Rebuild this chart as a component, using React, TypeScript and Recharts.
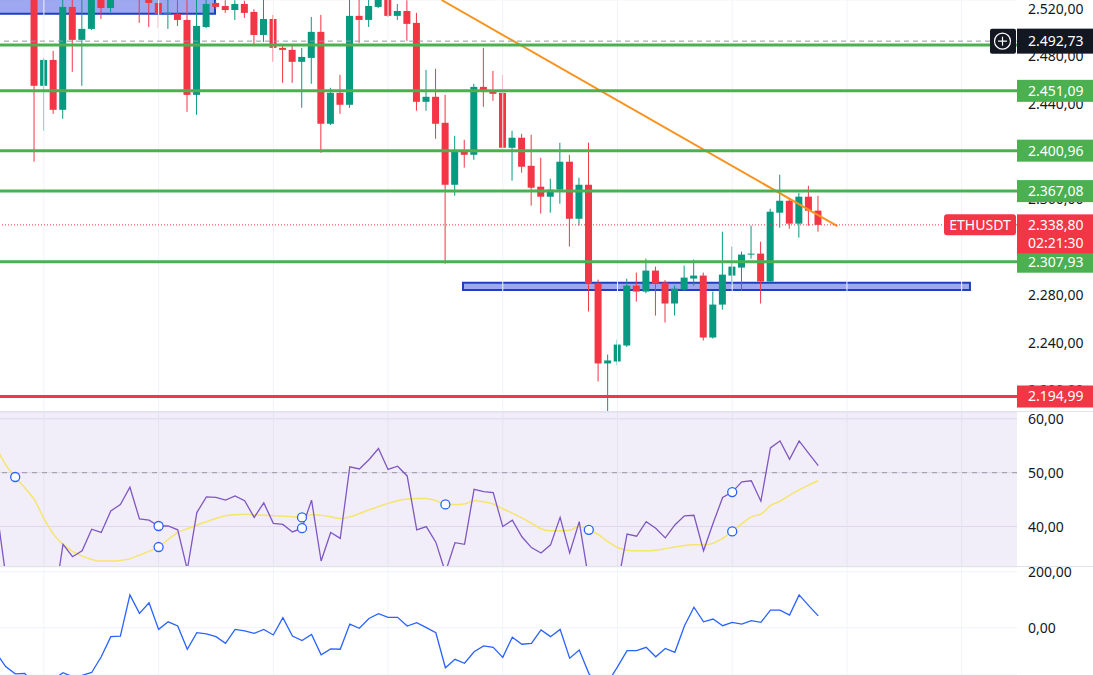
import React from 'react';
import {
  ComposedChart,
  Bar,
  Line,
  XAxis,
  YAxis,
  CartesianGrid,
  ReferenceLine,
  ReferenceArea,
} from 'recharts';

// ---------- data ----------
const opens = [
  2560, 2552, 2540, 2545,
  2534.8, 2455.3, 2477.0, 2435.2, 2521.4, 2493.8, 2503.0, 2528.0, 2520.5, 2529.0,
  2540.0, 2534.0, 2529.0, 2524.7, 2515.5, 2515.5, 2510.5, 2447.7, 2504.6, 2524.7,
  2522.2, 2518.8, 2523.9, 2517.2, 2497.9, 2511.3, 2487.1, 2485.4, 2475.4, 2478.7,
  2500.5, 2423.5, 2449.4, 2439.4, 2513.9, 2510.5, 2521.4, 2528.5, 2513.9, 2518.0,
  2508.0, 2441.9, 2446.1, 2424.3, 2372.4, 2400.1, 2397.5, 2454.4, 2451.1, 2449.4,
  2403.4, 2411.8, 2388.3, 2370.8, 2362.4, 2368.3, 2391.7, 2343.9, 2372.4, 2289.6,
  2222.7, 2224.3, 2237.7, 2287.9, 2282.9, 2300.5, 2290.4, 2272.9, 2284.6, 2293.8,
  2296.3, 2244.4, 2272.0, 2296.3, 2303.0, 2313.9, 2314.7, 2291.3, 2349.0, 2359.0,
  2339.8, 2362.4, 2350.7,
];
const highs = [
  2566, 2556, 2548, 2549,
  2543.0, 2478.7, 2484.6, 2528.0, 2528.5, 2529.0, 2533.0, 2532.0, 2533.0, 2545.0,
  2548.0, 2540.0, 2533.0, 2527.5, 2528.0, 2527.0, 2527.0, 2530.0, 2531.0, 2526.4,
  2527.0, 2527.0, 2526.5, 2519.5, 2528.0, 2514.7, 2490.4, 2490.4, 2487.1, 2513.0,
  2514.7, 2453.6, 2464.5, 2528.0, 2528.0, 2528.0, 2532.0, 2531.0, 2523.9, 2527.0,
  2516.4, 2468.7, 2469.5, 2447.7, 2413.4, 2410.1, 2457.0, 2487.1, 2467.8, 2464.5,
  2417.6, 2415.1, 2414.3, 2395.0, 2377.5, 2407.6, 2397.5, 2378.3, 2407.6, 2292.9,
  2230.2, 2242.7, 2293.8, 2298.8, 2310.5, 2303.8, 2292.5, 2287.9, 2304.7, 2309.7,
  2298.8, 2282.9, 2333.1, 2320.6, 2316.4, 2338.1, 2324.7, 2352.3, 2380.8, 2360.5,
  2365.7, 2371.6, 2363.2,
];
const lows = [
  2548, 2536, 2533, 2529,
  2391.7, 2417.6, 2431.8, 2427.7, 2467.0, 2455.3, 2502.0, 2511.3, 2517.2, 2527.8,
  2528.5, 2508.0, 2504.6, 2503.8, 2503.0, 2505.5, 2433.5, 2431.0, 2503.5, 2519.5,
  2516.4, 2510.5, 2512.2, 2490.4, 2492.1, 2475.4, 2457.8, 2457.8, 2436.9, 2457.0,
  2399.2, 2422.5, 2431.8, 2436.9, 2491.3, 2504.6, 2520.5, 2513.0, 2510.5, 2492.9,
  2434.4, 2434.4, 2410.9, 2306.3, 2363.2, 2386.7, 2393.3, 2437.7, 2442.7, 2402.5,
  2375.8, 2382.5, 2354.9, 2348.2, 2349.0, 2356.5, 2320.6, 2338.1, 2266.2, 2207.6,
  2181.6, 2221.0, 2236.5, 2274.5, 2281.5, 2262.8, 2257.0, 2262.8, 2283.5, 2287.9,
  2241.9, 2243.5, 2267.8, 2288.8, 2283.7, 2310.5, 2272.9, 2290.5, 2336.4, 2335.6,
  2328.1, 2338.1, 2333.1,
];
const closes = [
  2552, 2540, 2545, 2538,
  2455.3, 2477.0, 2435.2, 2521.4, 2493.8, 2503.0, 2528.0, 2520.5, 2529.0, 2540.0,
  2534.0, 2529.0, 2524.7, 2515.5, 2516.5, 2510.5, 2447.7, 2505.5, 2523.9, 2521.4,
  2518.8, 2523.9, 2516.4, 2497.9, 2511.3, 2487.1, 2485.4, 2475.4, 2479.5, 2500.5,
  2423.5, 2449.4, 2439.4, 2513.9, 2510.5, 2522.2, 2528.5, 2513.9, 2518.0, 2507.2,
  2441.9, 2446.1, 2423.5, 2372.4, 2400.9, 2397.5, 2454.4, 2451.1, 2448.6, 2403.4,
  2411.8, 2387.5, 2369.9, 2362.4, 2368.3, 2391.7, 2343.9, 2372.4, 2289.6, 2222.7,
  2225.2, 2238.5, 2287.9, 2282.9, 2300.5, 2289.6, 2272.9, 2285.4, 2294.6, 2296.3,
  2244.4, 2272.0, 2297.1, 2303.8, 2313.9, 2314.7, 2291.3, 2349.8, 2359.0, 2339.8,
  2362.4, 2350.7, 2338.8,
];
const rsiValues = [
  44, 31, 29, 27, 24, 27, 25, 36.7, 34.4, 35.5,
  39.5, 38.9, 42.9, 44.1, 47.3, 41.4, 41.2, 40.1, 40.1, 39.4,
  32.0, 42.6, 45.5, 45.4, 44.9, 45.7, 44.8, 41.7, 44.4, 40.6,
  40.4, 39.0, 39.7, 44.9, 33.6, 38.9, 37.8, 51.1, 50.7, 52.4,
  54.5, 50.6, 51.2, 49.4, 39.4, 40.0, 37.1, 31.5, 37.0, 36.7,
  46.9, 46.5, 46.3, 40.0, 41.2, 38.1, 36.1, 35.1, 36.6, 41.7,
  35.1, 40.9, 30.0, 24.0, 25.0, 29.0, 38.6, 38.2, 40.9, 39.7,
  37.9, 40.3, 42.0, 42.1, 35.5, 40.6, 45.4, 46.4, 48.3, 48.5,
  44.7, 54.6, 55.9, 52.5, 55.9, 53.6, 51.3,
];
const rsiMaValues = [
  54.8, 51.5, 49.2, 47.2, 45.0, 41.5, 38.6, 36.7, 35.4, 34.5,
  33.9, 33.6, 33.6, 33.7, 34.0, 34.7, 35.4, 36.2, 37.6, 38.9,
  39.6, 40.3, 40.9, 41.5, 42.0, 42.2, 42.3, 42.2, 42.1, 42.0,
  41.9, 41.8, 41.7, 42.2, 42.1, 41.8, 41.5, 41.8, 42.4, 43.1,
  43.7, 44.3, 44.8, 45.1, 45.2, 45.2, 44.8, 44.1, 44.1, 44.2,
  44.8, 44.6, 44.2, 43.3, 42.5, 41.6, 40.6, 39.6, 39.2, 39.2,
  39.3, 40.0, 39.4, 38.5, 37.2, 36.1, 35.6, 35.5, 35.5, 35.6,
  35.9, 36.2, 36.5, 36.6, 36.6, 36.9, 37.8, 39.1, 40.5, 41.8,
  42.3, 43.9, 44.7, 45.8, 46.8, 47.7, 48.5,
];
const cciValues = [
  -89, -139, -165, -163, -205, -190, -185, -161, -175, -170,
  -160, -104, -32, -30, 117, 51, 89, -6, 21, 6,
  -77, -18, -22, -32, -56, -6, -11, -20, -6, -26,
  36, -30, -46, -24, -97, -76, -77, 13, -2, 33,
  50, 37, 37, 6, 18, 0, -18, -143, -113, -127,
  -86, -65, -70, -106, -34, -59, -56, -8, -32, -6,
  -109, -80, -163, -210, -195, -140, -82, -82, -70, -104,
  -74, -88, 6, 73, 21, 31, 7, 19, 13, 25,
  19, 63, 63, 45, 117, 79, 42,
];

const priceTicks = [2200, 2240, 2280, 2320, 2360, 2400, 2440, 2480, 2520];
const rsiTicks = [40, 50, 60];
const cciTicks = [0, 200];
const gridIdx = [5, 17, 29, 41, 53, 65, 77, 89, 101];
const markerIdx = [2, 17, 32, 47, 62, 77];
const supportLevels = [2451.09, 2400.96, 2367.08, 2307.93];
const hiddenLevel = 2489.46;
const redLevel = 2194.99;
const crosshairPrice = 2492.73;
const lastPrice = 2338.8;
const countdown = '02:21:30';
const symbol = 'ETHUSDT';
const trendPoints = [
  { j: 46.6, p: 2527.2 },
  { j: 88.0, p: 2337.8 },
];
const zones = [
  { j1: -10, j2: 22.9, p1: 2515.7, p2: 2560 },
  { j1: 48.84, j2: 101.87, p1: 2284.2, p2: 2290.3 },
];

// ---------- style ----------
const FONT = '"Noto Sans", sans-serif';
const W = 1093;
const AXIS_W = 76;
const X_DOMAIN: [number, number] = [0.41, 106.79];
const GREEN_C = '#089981';
const RED_C = '#f23645';
const LINE_GREEN = '#4caf50';
const TEXT = '#131722';
const GRID = '#f0f3fa';
const FS = 14;

const rows = opens.map((open, j) => ({
  j,
  open,
  high: highs[j],
  low: lows[j],
  close: closes[j],
  rsi: rsiValues[j],
  rsiMa: rsiMaValues[j],
  cci: cciValues[j],
}));

const fmt = (v: number) => {
  const neg = v < 0;
  const [i, d] = Math.abs(v).toFixed(2).split('.');
  return (neg ? '−' : '') + i.replace(/\B(?=(\d{3})+(?!\d))/g, '.') + ',' + d;
};

const Candle = (props: any) => {
  const { x, y, width, height, payload } = props;
  if (!payload || x == null || y == null) return <g />;
  const { open, close, high, low } = payload;
  const up = close >= open;
  const color = up ? GREEN_C : RED_C;
  const cx = x + width / 2;
  const span = high - low;
  const py = (p: number) => (span === 0 ? y : y + ((high - p) / span) * height);
  const top = py(Math.max(open, close));
  const bot = py(Math.min(open, close));
  return (
    <g>
      <line x1={cx} x2={cx} y1={y} y2={y + height} stroke={color} strokeWidth={1} />
      <rect x={x} y={top} width={width} height={Math.max(1, bot - top)} fill={color} />
    </g>
  );
};

// price-scale tick text, drawn as a label so that the coloured tags can cover it
const TickText = (props: any) => {
  const { viewBox, text } = props;
  if (!viewBox) return null;
  const left = viewBox.x + viewBox.width;
  return (
    <text x={left + 11} y={viewBox.y} dy="0.35em" fill={TEXT} fontSize={FS} fontFamily={FONT}>
      {text}
    </text>
  );
};

const Tag = (props: any) => {
  const { viewBox, text, bg } = props;
  if (!viewBox) return null;
  const left = viewBox.x + viewBox.width;
  const cy = viewBox.y;
  return (
    <g>
      <rect x={left} y={cy - 11} width={AXIS_W} height={22} fill={bg} />
      <text x={left + 11} y={cy} dy="0.35em" fill="#ffffff" fontSize={FS} fontFamily={FONT}>
        {text}
      </text>
    </g>
  );
};

const CrossTag = (props: any) => {
  const { viewBox, text } = props;
  if (!viewBox) return null;
  const left = viewBox.x + viewBox.width;
  const cy = viewBox.y;
  const ix = left - 14.5;
  return (
    <g>
      <rect x={left - 27} y={cy - 12.5} width={26} height={25} rx={2} fill="#131722" />
      <circle cx={ix} cy={cy} r={8} fill="none" stroke="#ffffff" strokeWidth={1.2} />
      <line x1={ix - 4.5} x2={ix + 4.5} y1={cy} y2={cy} stroke="#ffffff" strokeWidth={1.2} />
      <line x1={ix} x2={ix} y1={cy - 4.5} y2={cy + 4.5} stroke="#ffffff" strokeWidth={1.2} />
      <rect x={left} y={cy - 12.5} width={AXIS_W} height={25} fill="#131722" />
      <text x={left + 11} y={cy} dy="0.35em" fill="#ffffff" fontSize={FS} fontFamily={FONT}>
        {text}
      </text>
    </g>
  );
};

const LastTag = (props: any) => {
  const { viewBox, text, sym, timer } = props;
  if (!viewBox) return null;
  const left = viewBox.x + viewBox.width;
  const cy = viewBox.y;
  return (
    <g>
      <rect x={left - 73} y={cy - 10.5} width={72} height={21} rx={3} fill={RED_C} />
      <text x={left - 37} y={cy} dy="0.35em" textAnchor="middle" fill="#ffffff" fontSize={FS} fontFamily={FONT}>
        {sym}
      </text>
      <rect x={left} y={cy - 10.5} width={AXIS_W} height={39} fill={RED_C} />
      <text x={left + 11} y={cy} dy="0.35em" fill="#ffffff" fontSize={FS} fontFamily={FONT}>
        {text}
      </text>
      <text x={left + 11} y={cy + 18} dy="0.35em" fill="#ffffff" fontSize={FS} fontFamily={FONT}>
        {timer}
      </text>
    </g>
  );
};

const makeDot = (color: string) => (p: any) => {
  const { cx, cy, payload, index } = p;
  if (!payload || !markerIdx.includes(payload.j) || cx == null || cy == null) {
    return <g key={`d-${color}-${index}`} />;
  }
  return (
    <circle
      key={`d-${color}-${index}`}
      cx={cx}
      cy={cy}
      r={4.5}
      fill="#ffffff"
      stroke="#2962ff"
      strokeWidth={1.3}
    />
  );
};

const tickStyle = { fill: TEXT, fontSize: FS, fontFamily: FONT };
const margin = { top: 0, right: 0, bottom: 0, left: 0 };

const MainPane = () => (
  <ComposedChart width={W} height={412} data={rows} margin={margin}>
    <CartesianGrid stroke={GRID} vertical={false} />
    <XAxis type="number" dataKey="j" domain={X_DOMAIN} hide allowDataOverflow />
    <YAxis
      orientation="right"
      width={AXIS_W}
      domain={[2182.0, 2527.2]}
      ticks={priceTicks}
      interval={0}
      allowDataOverflow
      tickLine={false}
      axisLine={false}
      tick={false}
    />
    {gridIdx.map((g) => (
      <ReferenceLine key={`vg${g}`} x={g} stroke={GRID} strokeWidth={1} />
    ))}
    {priceTicks.map((t) => (
      <ReferenceLine key={`pt${t}`} y={t} stroke="none" label={<TickText text={fmt(t)} />} />
    ))}
    {zones.map((z, k) => (
      <ReferenceArea
        key={`z${k}`}
        x1={z.j1}
        x2={z.j2}
        y1={z.p1}
        y2={z.p2}
        ifOverflow="hidden"
        fill="#5b6ee8"
        fillOpacity={0.6}
        stroke="#1e3fc0"
        strokeWidth={2}
        strokeOpacity={1}
      />
    ))}
    <Bar
      dataKey={(d: any) => [d.low, d.high]}
      barSize={7}
      isAnimationActive={false}
      shape={(p: any) => <Candle {...p} />}
    />
    <ReferenceLine
      segment={[
        { x: trendPoints[0].j, y: trendPoints[0].p },
        { x: trendPoints[1].j, y: trendPoints[1].p },
      ]}
      stroke="#f7931e"
      strokeWidth={2}
      ifOverflow="hidden"
    />
    <ReferenceLine y={hiddenLevel} stroke={LINE_GREEN} strokeWidth={3} />
    {supportLevels.map((lv) => (
      <ReferenceLine
        key={`s${lv}`}
        y={lv}
        stroke={LINE_GREEN}
        strokeWidth={3}
        label={<Tag text={fmt(lv)} bg={LINE_GREEN} />}
      />
    ))}
    <ReferenceLine y={redLevel} stroke={RED_C} strokeWidth={3} label={<Tag text={fmt(redLevel)} bg={RED_C} />} />
    <ReferenceLine
      y={lastPrice}
      stroke={RED_C}
      strokeWidth={1}
      strokeDasharray="1 2"
      label={<LastTag text={fmt(lastPrice)} sym={symbol} timer={countdown} />}
    />
    <ReferenceLine
      y={crosshairPrice}
      stroke="#9598a1"
      strokeWidth={1}
      strokeDasharray="5 4"
      label={<CrossTag text={fmt(crosshairPrice)} />}
    />
  </ComposedChart>
);

const RsiPane = () => (
  <ComposedChart width={W} height={155} data={rows} margin={margin}>
    <ReferenceArea y1={30} y2={70} ifOverflow="hidden" fill="#7e57c2" fillOpacity={0.1} stroke="none" />
    <CartesianGrid stroke="#e9e6f2" vertical={false} />
    <XAxis type="number" dataKey="j" domain={X_DOMAIN} hide allowDataOverflow />
    <YAxis
      orientation="right"
      width={AXIS_W}
      domain={[32.49, 61.27]}
      ticks={rsiTicks}
      interval={0}
      allowDataOverflow
      tickLine={false}
      axisLine={false}
      tickSize={6}
      tickMargin={5}
      tick={tickStyle}
      tickFormatter={fmt}
    />
    {gridIdx.map((g) => (
      <ReferenceLine key={`rg${g}`} x={g} stroke="#e6e2f0" strokeWidth={1} />
    ))}
    <ReferenceLine y={50} stroke="#9598a1" strokeWidth={1} strokeDasharray="5 5" />
    <Line
      type="monotone"
      dataKey="rsiMa"
      stroke="#f5e56b"
      strokeWidth={1.5}
      dot={makeDot('ma')}
      activeDot={false}
      isAnimationActive={false}
    />
    <Line
      type="linear"
      dataKey="rsi"
      stroke="#7e57c2"
      strokeWidth={1.3}
      dot={makeDot('rsi')}
      activeDot={false}
      isAnimationActive={false}
    />
  </ComposedChart>
);

const CciPane = () => (
  <ComposedChart width={W} height={108} data={rows} margin={margin}>
    <CartesianGrid stroke={GRID} vertical={false} />
    <XAxis type="number" dataKey="j" domain={X_DOMAIN} hide allowDataOverflow />
    <YAxis
      orientation="right"
      width={AXIS_W}
      domain={[-169, 216.8]}
      ticks={cciTicks}
      interval={0}
      allowDataOverflow
      tickLine={false}
      axisLine={false}
      tickSize={6}
      tickMargin={5}
      tick={tickStyle}
      tickFormatter={fmt}
    />
    {gridIdx.map((g) => (
      <ReferenceLine key={`cg${g}`} x={g} stroke={GRID} strokeWidth={1} />
    ))}
    <Line
      type="linear"
      dataKey="cci"
      stroke="#2962ff"
      strokeWidth={1.3}
      dot={false}
      activeDot={false}
      isAnimationActive={false}
    />
  </ComposedChart>
);

export default function App() {
  return (
    <div
      style={{
        position: 'absolute',
        left: 0,
        top: 0,
        width: W,
        height: 675,
        background: '#ffffff',
        fontFamily: FONT,
        overflow: 'hidden',
      }}
    >
      <div style={{ position: 'absolute', left: 0, top: 0 }}>
        <MainPane />
      </div>
      <div style={{ position: 'absolute', left: 0, top: 412 }}>
        <RsiPane />
      </div>
      <div style={{ position: 'absolute', left: 0, top: 567 }}>
        <CciPane />
      </div>
      <div style={{ position: 'absolute', left: 0, top: 411, width: W, height: 1, background: '#e0e3eb' }} />
      <div style={{ position: 'absolute', left: 0, top: 566, width: W, height: 1, background: '#e0e3eb' }} />
    </div>
  );
}
